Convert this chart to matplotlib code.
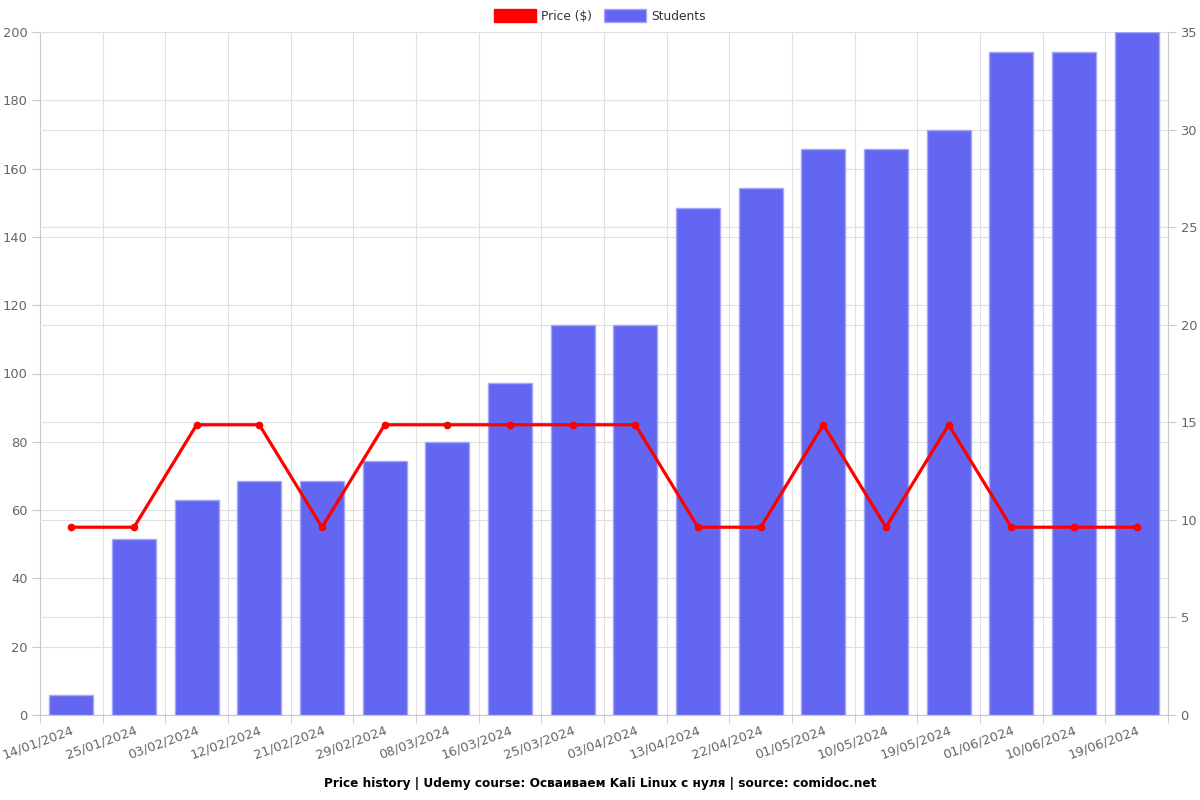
import matplotlib
matplotlib.use("Agg")
import matplotlib.pyplot as plt
from matplotlib.patches import Patch
import numpy as np

dates = ["14/01/2024", "25/01/2024", "03/02/2024", "12/02/2024", "21/02/2024",
         "29/02/2024", "08/03/2024", "16/03/2024", "25/03/2024", "03/04/2024",
         "13/04/2024", "22/04/2024", "01/05/2024", "10/05/2024", "19/05/2024",
         "01/06/2024", "10/06/2024", "19/06/2024"]
prices = [54.99, 54.99, 84.99, 84.99, 54.99, 84.99, 84.99, 84.99, 84.99, 84.99,
          54.99, 54.99, 84.99, 54.99, 84.99, 54.99, 54.99, 54.99]
students = [1, 9, 11, 12, 12, 13, 14, 17, 20, 20, 26, 27, 29, 29, 30, 34, 34, 35]

title = "Price history | Udemy course: Осваиваем Kali Linux с нуля | source: comidoc.net"

plt.rcParams['font.family'] = ['DejaVu Sans']
grey = "#666666"
gridc = "#e0e0e0"
axc = "#c8c8c8"

fig = plt.figure(figsize=(12, 8), dpi=100)
pos = [40/1200, 85/800, 1128/1200, 683/800]
x = np.arange(len(dates))

# price axis (bottom, holds left ticks + its grid)
ax_p = fig.add_axes(pos)
ax_p.set_zorder(0)
ax_p.set_xlim(-0.5, len(dates) - 0.5)
ax_p.set_ylim(0, 200)
ax_p.set_yticks(np.arange(0, 201, 20))
ax_p.set_xticks(x)
ax_p.set_xticklabels(dates, rotation=20, ha="right", rotation_mode="anchor")
ax_p.set_xticks(np.append(x - 0.5, len(dates) - 0.5), minor=True)
ax_p.tick_params(axis="x", which="major", length=0, pad=6, labelsize=9.4, labelcolor=grey)
ax_p.tick_params(axis="x", which="minor", length=6, color=axc)
ax_p.tick_params(axis="y", length=6, color=axc, labelsize=9.4, labelcolor=grey, pad=3)
ax_p.grid(True, which="minor", axis="x", color=gridc, linewidth=0.8)
ax_p.grid(True, which="major", axis="y", color=gridc, linewidth=0.8)
for s in ["top", "right"]:
    ax_p.spines[s].set_visible(False)
for s in ["left", "bottom"]:
    ax_p.spines[s].set_color(axc)

# students axis (bars)
ax_s = ax_p.twinx()
ax_s.set_zorder(1)
ax_s.patch.set_visible(False)
ax_s.set_ylim(0, 35)
ax_s.set_yticks(np.arange(0, 36, 5))
ax_s.set_axisbelow(True)
ax_s.grid(True, axis="y", color=gridc, linewidth=0.8)
ax_s.bar(x, students, width=0.7, color="#6366F1", edgecolor="#a5a6f6", linewidth=1)
ax_s.tick_params(axis="y", length=6, color=axc, labelsize=9.4, labelcolor=grey, pad=3)
for s in ["top", "left", "bottom"]:
    ax_s.spines[s].set_visible(False)
ax_s.spines["right"].set_color(axc)

# top axis for the price line
ax_l = fig.add_axes(pos, sharex=ax_p, sharey=ax_p)
ax_l.set_zorder(2)
ax_l.patch.set_visible(False)
ax_l.axis("off")
ax_l.plot(x, prices, color="#ff0000", linewidth=2.3, marker="o", markersize=4.5)

# legend
handles = [Patch(facecolor="#ff0000", edgecolor="#ff0000"),
           Patch(facecolor="#6366F1", edgecolor="#a5a6f6")]
fig.legend(handles, ["Price ($)", "Students"], loc="center", bbox_to_anchor=(0.5, 1 - 16/800),
           ncol=2, frameon=False, fontsize=8.8, handlelength=3.4, handleheight=1.2,
           columnspacing=1.0, handletextpad=0.45, labelcolor="#333333")

fig.text(0.5, 1 - 783/800, title, ha="center", va="center", fontsize=8.7, fontweight="bold")

fig.savefig("out.png", dpi=100)
